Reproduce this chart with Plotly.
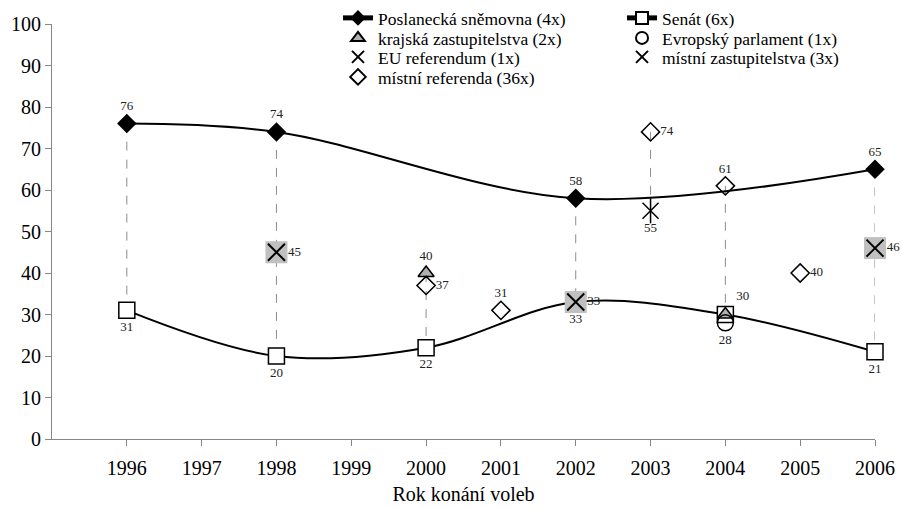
import plotly.graph_objects as go

# ---- data ----
ps_years = [1996, 1998, 2002, 2006]
ps_vals = [76, 74, 58, 65]

senat_years = [1996, 1998, 2000, 2002, 2004, 2006]
senat_vals = [31, 20, 22, 33, 30, 21]

kraj_years = [2000, 2004]
kraj_vals = [40, 30]

ep_years = [2004]
ep_vals = [28]

eu_years = [2003]
eu_vals = [55]

mz_years = [1998, 2002, 2006]
mz_vals = [45, 33, 46]

mr_years = [2000, 2001, 2003, 2004, 2005]
mr_vals = [37, 31, 74, 61, 40]

x_ticks = list(range(1996, 2007))

FONT = "Liberation Serif, Times New Roman, serif"
LBL = dict(family=FONT, size=13, color="#222222")

fig = go.Figure()

# high-low dashed lines computed from all series
series = [(ps_years, ps_vals), (senat_years, senat_vals), (kraj_years, kraj_vals),
          (ep_years, ep_vals), (eu_years, eu_vals), (mz_years, mz_vals), (mr_years, mr_vals)]
by_year = {}
for ys, vs in series:
    for yr, v in zip(ys, vs):
        by_year.setdefault(yr, []).append(v)
hx, hy = [], []
for yr in sorted(by_year):
    vals = by_year[yr]
    if len(vals) >= 2:
        hx += [yr, yr, None]
        hy += [max(vals), min(vals), None]
fig.add_trace(go.Scatter(x=hx, y=hy, mode="lines", showlegend=False, hoverinfo="skip",
                         line=dict(color="#8c8c8c", width=1, dash="dash")))

# Poslanecká sněmovna
fig.add_trace(go.Scatter(
    x=ps_years, y=ps_vals, mode="lines+markers+text", name="Poslanecká sněmovna (4x)",
    line=dict(color="black", width=2, shape="spline", smoothing=1),
    marker=dict(symbol="diamond", size=15, color="black"),
    text=[str(v) for v in ps_vals], textposition="top center", textfont=LBL,
    legend="legend"))

# Senát
senat_pos = ["bottom center"] * len(senat_vals)
senat_pos[senat_years.index(2004)] = "top right"
fig.add_trace(go.Scatter(
    x=senat_years, y=senat_vals, mode="lines+markers+text", name="Senát (6x)",
    line=dict(color="black", width=2, shape="spline", smoothing=1),
    marker=dict(symbol="square", size=16, color="white", line=dict(color="black", width=1.5)),
    text=[str(v) for v in senat_vals], textposition=senat_pos, textfont=LBL,
    legend="legend5"))

# místní zastupitelstva (gray square + X)
fig.add_trace(go.Scatter(
    x=mz_years, y=mz_vals, mode="markers", showlegend=False, hoverinfo="skip",
    marker=dict(symbol="square", size=22, color="#c0c0c0")))
fig.add_trace(go.Scatter(
    x=mz_years, y=mz_vals, mode="markers+text", name="místní zastupitelstva (3x)",
    marker=dict(symbol="x-thin-open", size=17, color="black", line=dict(color="black", width=2)),
    text=[str(v) for v in mz_vals], textposition="middle right", textfont=LBL,
    legend="legend7"))

# krajská zastupitelstva
kraj_text = [str(v) for v in kraj_vals]
kraj_text[kraj_years.index(2004)] = ""
fig.add_trace(go.Scatter(
    x=kraj_years, y=kraj_vals, mode="markers+text", name="krajská zastupitelstva (2x)",
    marker=dict(symbol="triangle-up", size=14, color="#b0b0b0", line=dict(color="black", width=1.5)),
    text=kraj_text, textposition="top center", textfont=LBL,
    legend="legend2"))

# Evropský parlament
fig.add_trace(go.Scatter(
    x=ep_years, y=ep_vals, mode="markers+text", name="Evropský parlament (1x)",
    marker=dict(symbol="circle-open", size=16, color="black", line=dict(width=1.5)),
    text=[str(v) for v in ep_vals], textposition="bottom center", textfont=LBL,
    legend="legend6"))

# EU referendum (X + vertical bar)
fig.add_trace(go.Scatter(
    x=eu_years, y=eu_vals, mode="markers", showlegend=False, hoverinfo="skip",
    marker=dict(symbol="line-ns-open", size=18, color="black", line=dict(color="black", width=1.5))))
fig.add_trace(go.Scatter(
    x=eu_years, y=eu_vals, mode="markers+text", name="EU referendum (1x)",
    marker=dict(symbol="x-thin-open", size=16, color="black", line=dict(color="black", width=1.5)),
    text=[str(v) for v in eu_vals], textposition="bottom center", textfont=LBL,
    legend="legend3"))

# místní referenda
mr_pos = ["middle right", "top center", "middle right", "top center", "middle right"]
fig.add_trace(go.Scatter(
    x=mr_years, y=mr_vals, mode="markers+text", name="místní referenda (36x)",
    marker=dict(symbol="diamond-open", size=14, color="black", line=dict(color="black", width=1.5)),
    text=[str(v) for v in mr_vals], textposition=mr_pos, textfont=LBL,
    legend="legend4"))

fig.update_traces(cliponaxis=False)

H_PLOT = 509 - 70  # paper height below top margin 0
axis_col = "#868686"


def leg(xp, top_px):
    return dict(x=xp, y=1 - top_px / H_PLOT, xanchor="left", yanchor="top",
                font=dict(family=FONT, size=17.5), bgcolor="rgba(0,0,0,0)",
                itemsizing="constant")


COL1, COL2 = 0.3475, 0.6926
ROWS = [0, 20, 39, 59]
fig.update_layout(
    width=903, height=509,
    margin=dict(l=52, r=28, t=0, b=70, autoexpand=False),
    paper_bgcolor="white", plot_bgcolor="white",
    font=dict(family=FONT, size=17, color="black"),
    showlegend=True,
    legend=leg(COL1, ROWS[0]),
    legend2=leg(COL1, ROWS[1]),
    legend3=leg(COL1, ROWS[2]),
    legend4=leg(COL1, ROWS[3]),
    legend5=leg(COL2, ROWS[0]),
    legend6=leg(COL2, ROWS[1]),
    legend7=leg(COL2, ROWS[2]),
    xaxis=dict(range=[1995, 2006], tickmode="array", tickvals=x_ticks, automargin=False,
               ticktext=[str(t) for t in x_ticks], showgrid=False, zeroline=False,
               showline=True, linecolor=axis_col, linewidth=1, ticks="outside", ticklen=6,
               tickcolor=axis_col, tickfont=dict(family=FONT, size=20), ticklabelstandoff=5,
               title=dict(text="Rok konání voleb", font=dict(family=FONT, size=20), standoff=8)),
    yaxis=dict(range=[0, 100], tickmode="linear", tick0=0, dtick=10, showgrid=False, zeroline=False,
               domain=[0, (H_PLOT - 24) / H_PLOT], automargin=False,
               showline=True, linecolor=axis_col, linewidth=1, ticks="outside", ticklen=6,
               tickcolor=axis_col, tickfont=dict(family=FONT, size=20)),
)

fig.write_html("out.html", config={"displayModeBar": False},
               post_script="document.body.style.margin='0';")
